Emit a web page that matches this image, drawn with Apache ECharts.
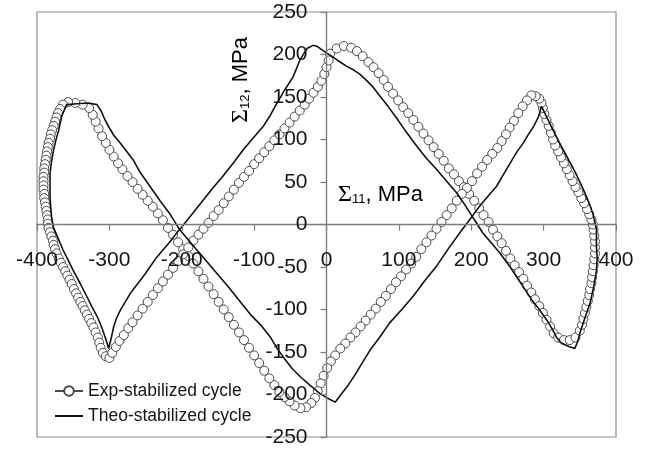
<!DOCTYPE html>
<html>
<head>
<meta charset="utf-8">
<script src="https://cdn.jsdelivr.net/npm/echarts@6/dist/echarts.min.js"></script>
<style>
  html, body { margin: 0; padding: 0; background: #ffffff; }
  #chart { width: 646px; height: 455px; }
</style>
</head>
<body>
<div id="chart"></div>
<script>
// Stabilized shear/axial stress cycle: experiment (circles) vs. theory (line)
const seriesNames = ['Exp-stabilized cycle', 'Theo-stabilized cycle'];

// [Sigma11, Sigma12] in MPa, in loop order
const expCycle = [
  [5,201],[14,207],[24,210],[34,208],[42,204],[50,198],[58,191],[65,185],[72,178],[79,170],
  [85,162],[92,154],[99,146],[106,138],[113,131],[120,123],[127,115],[134,107],[141,99],[148,91],
  [155,83],[162,75],[169,66],[176,59],[183,51],[190,44],[197,36],[204,28],[211,19],[217,11],
  [224,3],[230,-6],[236,-14],[242,-22],[248,-31],[254,-40],[260,-48],[266,-56],[272,-64],[277,-72],
  [283,-80],[288,-88],[294,-96],[299,-104],[304,-112],[309,-120],[314,-128],[320,-133],[328,-136],[336,-136],
  [344,-133],
  [350,-125],[353,-118],[355,-111],[357,-104],[359,-97],[361,-90],[363,-83],[364,-76],[366,-69],
  [367,-62],[368,-55],[369,-48],[370,-41],[371,-34],[371,-27],[371,-20],[370,-13],[369,-6],[368,0],
  [366,6],[363,12],[360,18],[356,25],[352,31],[348,38],[344,44],[340,51],[336,58],[332,65],
  [328,72],[324,79],[320,86],[316,93],[313,100],[310,108],[307,116],[304,123],[301,130],[299,137],
  [297,143],[294,148],[289,151],[283,152],
  [277,146],[271,139],[265,131],[259,122],[253,114],[248,106],[242,98],[236,90],[229,83],[222,76],
  [215,68],[208,60],[201,51],[194,43],[187,36],[180,28],[173,19],[166,11],[159,3],[152,-5],
  [145,-13],[138,-21],[131,-29],[124,-38],[117,-46],[110,-53],[103,-61],[96,-68],[89,-76],[82,-84],
  [75,-91],[68,-99],[61,-106],[54,-113],[47,-120],[40,-127],[33,-133],[26,-140],[19,-146],[12,-154],
  [6,-161],[1,-169],[-4,-178],[-8,-187],[-12,-196],[-16,-204],[-21,-210],[-28,-215],[-36,-216],[-44,-213],
  [-51,-208],[-58,-203],[-65,-197],[-72,-189],[-79,-181],[-86,-172],[-93,-163],[-100,-154],[-107,-145],[-114,-136],
  [-121,-127],[-128,-118],[-135,-109],[-142,-100],[-149,-91],[-156,-82],[-163,-73],[-170,-64],[-177,-55],[-184,-46],
  [-191,-37],[-198,-29],[-205,-21],[-212,-12],[-219,-4],[-226,5],[-233,13],[-240,21],[-247,28],[-254,35],
  [-261,42],[-268,50],[-275,57],[-282,65],[-288,72],[-294,80],[-300,88],[-305,96],[-310,104],[-315,113],
  [-319,121],[-323,129],[-328,137],[-337,141],[-347,143],[-357,144],[-364,141],
  [-368,136],[-371,131],[-373,126],[-375,121],[-377,116],[-379,111],[-381,106],[-382,101],[-384,96],[-385,91],
  [-386,86],[-387,81],[-388,76],[-389,71],[-390,66],[-390,61],[-391,56],[-391,51],[-391,46],[-391,41],
  [-390,36],[-390,31],[-389,26],[-388,21],[-387,16],[-386,11],[-385,6],[-385,1],[-384,-4],[-382,-9],
  [-380,-14],[-378,-19],[-377,-24],[-375,-29],[-373,-34],[-370,-40],[-367,-45],[-364,-50],[-361,-55],[-358,-60],
  [-355,-65],[-352,-70],[-349,-76],[-346,-81],[-343,-86],[-340,-91],[-337,-96],[-334,-101],[-331,-106],[-328,-111],
  [-325,-116],[-322,-121],[-319,-127],[-316,-133],[-314,-139],[-312,-145],[-309,-151],[-305,-155],[-300,-157],
  [-296,-151],[-291,-144],[-286,-137],[-280,-130],[-274,-122],[-268,-115],[-261,-107],[-254,-99],[-247,-91],[-240,-83],
  [-233,-75],[-226,-67],[-219,-59],[-212,-51],[-205,-43],[-198,-35],[-191,-27],[-184,-19],[-177,-12],[-170,-5],
  [-163,2],[-156,10],[-149,17],[-142,25],[-135,33],[-128,41],[-121,49],[-114,56],[-107,63],[-100,71],
  [-93,78],[-86,85],[-79,92],[-72,99],[-65,106],[-58,113],[-51,120],[-44,127],[-37,134],[-30,141],
  [-24,148],[-18,155],[-12,162],[-7,169],[-3,177],[0,185],[3,193]
];

const theoCycle = [
  [-18,211],[-12,209],[-7,206],[0,202],[7,198],[14,194],[21,190],[28,186],[37,182],[46,177],
  [56,169],[65,161],[74,151],[85,139],[97,125],[110,109],[124,93],[138,78],[152,65],[166,51],
  [180,37],[189,26],[198,14],[207,2],[216,-10],[227,-21],[239,-33],[253,-49],[263,-62],[274,-76],
  [284,-89],[294,-100],[304,-112],[312,-123],[318,-133],[324,-139],[333,-143],[343,-146],
  [347,-138],[350,-128],[357,-110],[364,-93],[369,-74],[373,-54],[374,-40],[373,-26],[373,-6],[368,13],
  [362,27],[355,41],[344,61],[332,80],[322,96],[313,111],[304,127],[297,139],
  [293,127],[286,115],[279,106],[272,96],[262,84],[253,71],[244,58],[235,45],[224,34],[212,22],
  [198,6],[184,-10],[168,-29],[152,-49],[136,-66],[120,-84],[104,-100],[87,-116],[74,-132],[60,-148],
  [50,-162],[40,-176],[30,-189],[20,-200],[12,-209],
  [3,-205],[-9,-199],[-23,-189],[-35,-180],[-47,-170],[-58,-158],[-68,-146],[-78,-132],[-90,-119],[-105,-106],
  [-120,-90],[-136,-73],[-152,-57],[-166,-43],[-180,-29],[-192,-17],[-203,-6],[-216,12],[-230,28],[-244,45],
  [-258,62],[-267,76],[-276,86],[-285,96],[-294,105],[-301,115],[-306,123],[-311,133],[-317,141],[-329,143],
  [-345,142],[-359,141],
  [-366,127],[-370,111],[-374,99],[-377,88],[-380,74],[-382,60],[-382,46],[-382,33],[-381,20],[-380,9],
  [-377,-4],[-371,-16],[-364,-30],[-357,-42],[-350,-54],[-340,-70],[-331,-85],[-324,-97],[-317,-108],[-311,-120],
  [-306,-132],[-303,-140],[-301,-146],
  [-297,-132],[-294,-120],[-290,-110],[-285,-101],[-278,-91],[-271,-81],[-262,-71],[-253,-61],[-244,-50],[-235,-39],
  [-226,-30],[-216,-20],[-207,-10],[-198,-1],[-184,14],[-170,29],[-157,43],[-143,57],[-129,72],[-115,88],
  [-101,102],[-87,116],[-78,128],[-69,142],[-58,158],[-46,174],[-37,193],[-27,207],[-18,211]
];

// Axis ranges (MPa)
const xRange = [-400, 400], xStep = 100;
const yRange = [-250, 250], yStep = 50;

const FONT = '"Liberation Sans", Arial, sans-serif';
const SERIF = '"Liberation Serif", "Times New Roman", serif';
const AXIS_GREY = '#7c7c7c';
const TEXT = '#161616';

// Plot frame inside the 646 x 455 canvas
const W = 646, H = 455;
const frame = { left: 37, right: 30, top: 12, bottom: 18 };
const plotW = W - frame.left - frame.right;
const plotH = H - frame.top - frame.bottom;
// Both axes cross at the origin: shift each axis from the frame edge to value 0
const xAxisShift = -plotH * (0 - yRange[0]) / (yRange[1] - yRange[0]);
const yAxisShift = -plotW * (0 - xRange[0]) / (xRange[1] - xRange[0]);

const chart = echarts.init(document.getElementById('chart'), null, { renderer: 'canvas' });

// Axes sit above the curves so the tick labels stay readable
const axisCommon = {
  type: 'value', z: 5,
  axisLine: { show: true, onZero: false, lineStyle: { color: AXIS_GREY, width: 1.4 } },
  axisTick: { show: true, inside: false, length: 6, lineStyle: { color: AXIS_GREY, width: 1.2 } },
  splitLine: { show: false },
  axisLabel: {
    fontSize: 21, color: TEXT, fontFamily: FONT,
    showMinLabel: true, showMaxLabel: true, hideOverlap: false
  }
};

const nameRich = {
  sig: { fontFamily: SERIF, fontSize: 24, color: TEXT },
  sub: { fontFamily: FONT, fontSize: 13, color: TEXT, padding: [9, 0, 0, 0] },
  txt: { fontFamily: FONT, fontSize: 22, color: TEXT }
};

chart.setOption({
  animation: false,
  backgroundColor: '#ffffff',
  grid: {
    left: frame.left, right: frame.right, top: frame.top, bottom: frame.bottom,
    containLabel: false, outerBoundsMode: 'none',
    show: true, borderColor: '#8e8e8e', borderWidth: 1.2, backgroundColor: 'transparent'
  },
  xAxis: Object.assign({}, axisCommon, {
    min: xRange[0], max: xRange[1], interval: xStep,
    position: 'bottom', offset: xAxisShift,
    axisLabel: Object.assign({}, axisCommon.axisLabel, { margin: 25 })
  }),
  yAxis: Object.assign({}, axisCommon, {
    min: yRange[0], max: yRange[1], interval: yStep,
    position: 'left', offset: yAxisShift,
    axisLabel: Object.assign({}, axisCommon.axisLabel, { margin: 19 })
  }),
  legend: {
    orient: 'vertical', left: 49, top: 377,
    itemWidth: 28, itemHeight: 12, itemGap: 7,
    textStyle: { fontSize: 17.5, color: TEXT, fontFamily: FONT },
    data: [
      { name: seriesNames[0] },
      { name: seriesNames[1], itemStyle: { opacity: 0 } }
    ]
  },
  graphic: [
    {
      type: 'text', x: 338, y: 195, z: 6,
      style: {
        text: '{sig|Σ}{sub|11}{txt|, MPa}', rich: nameRich,
        align: 'left', verticalAlign: 'middle'
      }
    },
    {
      type: 'text', x: 241, y: 80, z: 6, rotation: Math.PI / 2,
      style: {
        text: '{sig|Σ}{sub|12}{txt|, MPa}', rich: nameRich,
        align: 'center', verticalAlign: 'middle'
      }
    }
  ],
  series: [
    {
      name: seriesNames[0], type: 'line', data: expCycle,
      symbol: 'circle', symbolSize: 9, showAllSymbol: true,
      itemStyle: { color: '#ffffff', borderColor: '#4a4a4a', borderWidth: 1 },
      lineStyle: { color: '#4a4a4a', width: 1 },
      emphasis: { disabled: true }, z: 2
    },
    {
      name: seriesNames[1], type: 'line', data: theoCycle,
      symbol: 'none',
      lineStyle: { color: '#111111', width: 1.6 },
      itemStyle: { color: '#111111' },
      emphasis: { disabled: true }, z: 3
    }
  ]
});
</script>
</body>
</html>
